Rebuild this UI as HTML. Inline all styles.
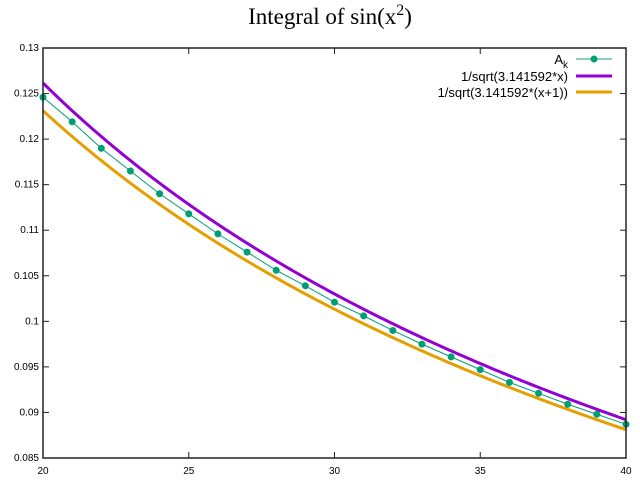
<!DOCTYPE html>
<html><head><meta charset="utf-8"><style>
body{margin:0;background:#fff;}
svg text{font-family:"Liberation Sans",sans-serif;}
</style></head><body>
<svg id="chart" width="640" height="480" xmlns="http://www.w3.org/2000/svg">
<text x="330" y="24" text-anchor="middle" style="font-family:'Liberation Serif',serif;font-size:23px">Integral of sin(x<tspan dy="-9" font-size="16">2</tspan><tspan dy="9">)</tspan></text>
<g id="grid"></g>
<g id="marks"></g>
<rect x="43" y="48" width="583" height="410" fill="none" stroke="#222" stroke-width="1.5"/>
<g font-size="13" text-anchor="end">
<text x="568" y="64">A<tspan dy="4" font-size="10">k</tspan></text>
<line x1="576" y1="59" x2="612" y2="59" stroke="#009e73" stroke-width="1" opacity="0.6"/>
<line x1="576" y1="59" x2="612" y2="59" stroke="#1a9e7a" stroke-width="1"/>
<circle cx="594" cy="59" r="3.5" fill="#009e73"/>
<text x="568" y="81">1/sqrt(3.141592*x)</text>
<line x1="576" y1="76" x2="612" y2="76" stroke="#9400d3" stroke-width="3"/>
<text x="568" y="97">1/sqrt(3.141592*(x+1))</text>
<line x1="576" y1="92" x2="612" y2="92" stroke="#e69f00" stroke-width="3"/>
</g>
</svg>
<script>
const xTicks=[20,25,30,35,40];
const yTicks=[0.085,0.09,0.095,0.1,0.105,0.11,0.115,0.12,0.125,0.13];
const kValues=[20,21,22,23,24,25,26,27,28,29,30,31,32,33,34,35,36,37,38,39,40];
const akValues=[0.1246,0.1219,0.1190,0.1165,0.1140,0.1118,0.1096,0.1076,0.1056,0.1039,0.1021,0.1006,0.0990,0.0975,0.0961,0.0947,0.0933,0.0921,0.0909,0.0898,0.0887];
const L=43,R=626,T=48,B=458,xMin=20,xMax=40,yMin=0.085,yMax=0.13;
const sx=x=>L+(x-xMin)/(xMax-xMin)*(R-L);
const sy=y=>B-(y-yMin)/(yMax-yMin)*(B-T);
const NS="http://www.w3.org/2000/svg";
const grid=document.getElementById('grid'),marks=document.getElementById('marks');
function mk(tag,attrs,parent){const e=document.createElementNS(NS,tag);for(const k in attrs)e.setAttribute(k,attrs[k]);parent.appendChild(e);return e;}
xTicks.forEach(v=>{const x=sx(v);
 const t=mk('line',{x1:x,x2:x,y1:B,y2:B-6,stroke:'#222'},grid);
 
 
 const t2=mk('line',{x1:x,x2:x,y1:T,y2:T+6,stroke:'#222'},grid);
 
 
 const l=mk('text',{x:x,y:B+16,'text-anchor':'middle','font-size':'10'},grid);l.textContent=v;
 
 
});
yTicks.forEach(v=>{const y=sy(v);
 const t=mk('line',{x1:L,x2:L+6,y1:y,y2:y,stroke:'#222'},grid);
 
 
 const t2=mk('line',{x1:R,x2:R-6,y1:y,y2:y,stroke:'#222'},grid);
 
 
 const l=mk('text',{x:L-4,y:y+3,'text-anchor':'end','font-size':'10'},grid);l.textContent=String(+v.toFixed(3));
 
 
});
function curve(f,color,name){let d='';for(let i=0;i<=200;i++){const x=xMin+(xMax-xMin)*i/200;d+=(i?'L':'M')+sx(x).toFixed(2)+','+sy(f(x)).toFixed(2);}
 const p=mk('path',{d:d,fill:'none',stroke:color,'stroke-width':3},marks);
 
 }
curve(x=>1/Math.sqrt(3.141592*x),'#9400d3','curve-1-over-sqrt-pi-x');
curve(x=>1/Math.sqrt(3.141592*(x+1)),'#e69f00','curve-1-over-sqrt-pi-x-plus-1');
const ak=mk('polyline',{points:kValues.map((k,i)=>sx(k)+','+sy(akValues[i])).join(' '),fill:'none',stroke:'#009e73','stroke-width':1},marks);


kValues.forEach((k,i)=>{const c=mk('circle',{cx:sx(k),cy:sy(akValues[i]),r:3.5,fill:'#009e73'},marks);
 
 });
</script>
</body></html>
